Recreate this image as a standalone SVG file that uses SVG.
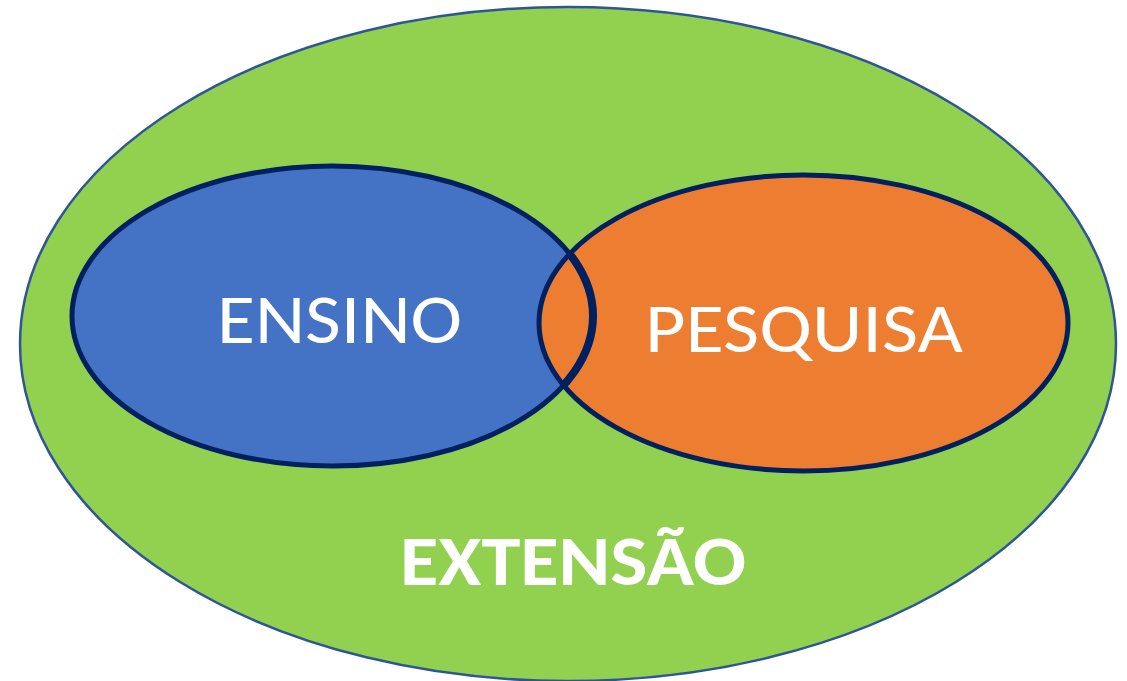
<svg xmlns="http://www.w3.org/2000/svg" width="1127" height="681" viewBox="0 0 1127 681">
  <style>
    .lbl { fill: #ffffff; font-family: Carlito, Lato, "Open Sans", sans-serif; text-anchor: middle; }
    .inner { stroke: #002060; stroke-width: 5; }
  </style>
  <defs>
    <clipPath id="orangeClip">
      <ellipse cx="803.5" cy="323" rx="264.5" ry="148"/>
    </clipPath>
  </defs>
  <rect width="1127" height="681" fill="#ffffff"/>
  <g id="extensao">
    <ellipse cx="568" cy="344" rx="548" ry="337" fill="#92D050" stroke="#2F5597" stroke-width="2.5"/>
    <text class="lbl" x="573" y="585" font-size="70" font-weight="bold" textLength="346" lengthAdjust="spacingAndGlyphs">EXTENSÃO</text>
  </g>
  <g id="ensino">
    <ellipse class="inner" cx="332.5" cy="316" rx="260.5" ry="150" fill="#4472C4"/>
  </g>
  <g id="pesquisa">
    <ellipse class="inner" cx="803.5" cy="323" rx="264.5" ry="148" fill="#ED7D31"/>
    <text class="lbl" x="804" y="352" font-size="70" textLength="318" lengthAdjust="spacingAndGlyphs">PESQUISA</text>
  </g>
  <g id="ensino-overlay">
    <ellipse cx="332.5" cy="316" rx="260.5" ry="150" fill="none" stroke="#002060" stroke-width="8" clip-path="url(#orangeClip)"/>
    <text class="lbl" x="339.5" y="343" font-size="70" textLength="245" lengthAdjust="spacingAndGlyphs">ENSINO</text>
  </g>
</svg>
